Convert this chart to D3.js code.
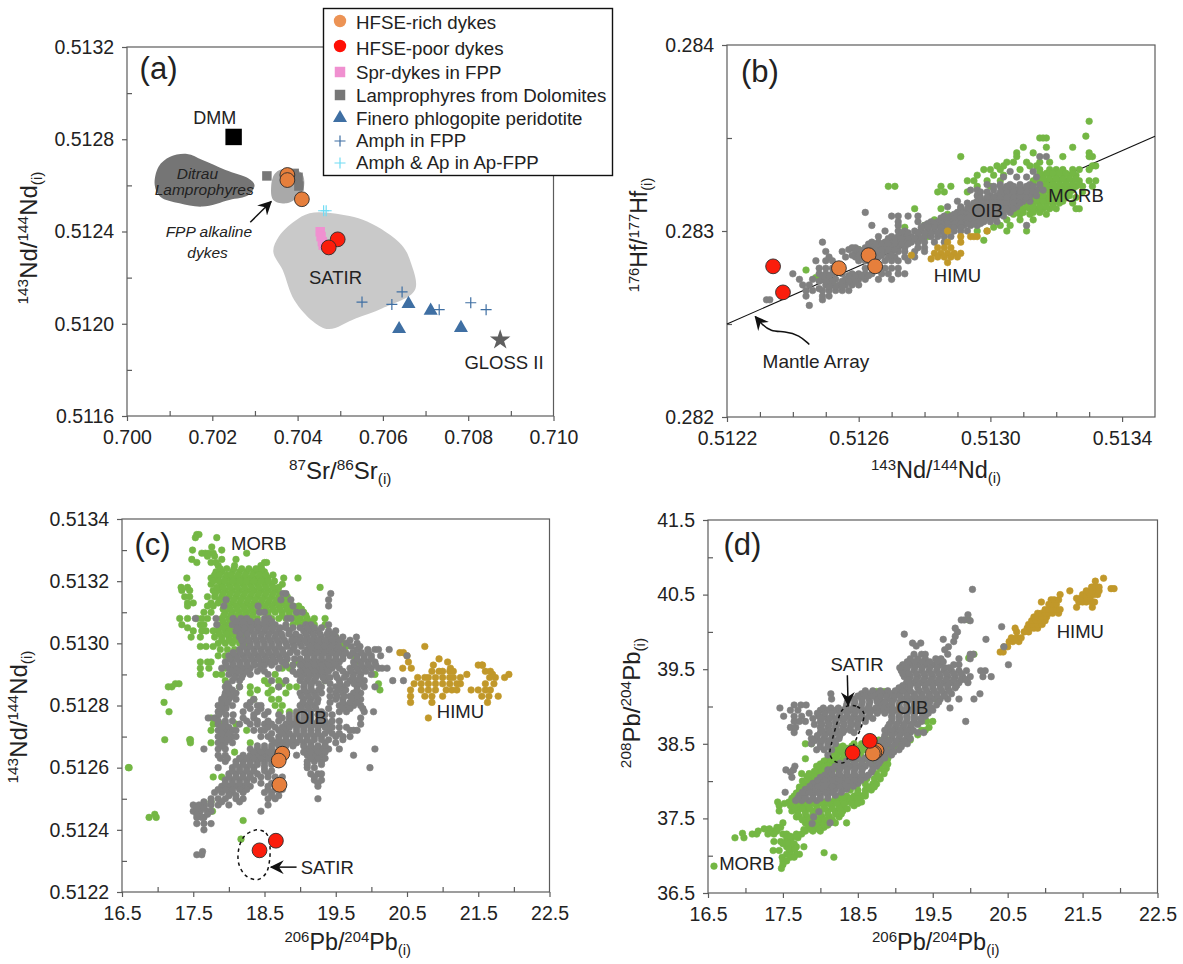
<!DOCTYPE html>
<html>
<head>
<meta charset="utf-8">
<script src="https://cdn.jsdelivr.net/npm/d3@7"></script>
<style>
body { margin: 0; background: #fff; }
text { font-family: "Liberation Sans", Arial, sans-serif; fill: #222; }
</style>
</head>
<body>
<div id="chart"></div>
<script>
// ---- panel (a)
var richA = [[.70376,.512645],[.70376,.512623],[.7041,.51254]];
var poorA = [[.70494,.512366],[.70473,.512331]];
var sprA = [[.70453,.512399],[.70455,.512378],[.70458,.512356],[.7046,.512341]];
var lampA = [[.70328,.512641],[.70401,.512635],[.70403,.512597],[.70392,.512652]];
var fineroA = [[.70638,.511977],[.7066,.512086],[.70712,.512057],[.70783,.511982]];
var amphA = [[.70551,.512094],[.70621,.512084],[.70645,.512138],[.70732,.512061],[.70806,.512091],[.70842,.512061]];
var amphApA = [[.70461,.51249],[.70467,.51249]];
var dmmA = [[.7025,.51281]];
var glossA = [[.70875,.51193]];
var ditrauOutline = [[.70065,.512602],[.70074,.512681],[.70101,.512724],[.70141,.512736],[.70177,.51271],[.70231,.512667],[.70285,.51263],[.70299,.512602],[.70285,.512558],[.7024,.512537],[.70177,.512508],[.70123,.512522],[.70078,.512551]];
var fppOutline = [[.70338,.512594],[.70347,.512652],[.70374,.512674],[.7041,.512652],[.70415,.512594],[.70401,.512551],[.70374,.512522],[.70343,.512537]];
var satirOutline = [[.70343,.512313],[.70356,.512378],[.70392,.512443],[.70428,.512479],[.70482,.512479],[.70563,.512443],[.70644,.512341],[.70666,.512262],[.70675,.512146],[.70599,.512067],[.70536,.512023],[.70473,.511977],[.70437,.512009],[.70392,.512103],[.70365,.512233]];

// ---- panel (b), rows are [hf, nd, nd, ...]
var richB = [[.51254,.2828],[.51263,.28287],[.51265,.28281]];
var poorB = [[.51234,.28281],[.51237,.28267]];
var mantleArray = [[.5122,.2825],[.5135,.28351]];
var mantleArrow = [[.51245,.28239],[.51242,.28244],[.512376,.28246],[.512332,.28246],[.512305,.2825],[.512286,.28254]];
var greenB = [
 [.28359,.5133],[.28351,.51329],[.2835,.51315,.51317,.51316],[.28345,.5131,.51317,.51325],[.28342,.51308,.51313,.5133],
 [.2834,.51291,.51308,.51322,.5133,.51331],[.28337,.51305,.51307,.51311,.51315,.51318],[.28335,.51302,.51304,.51312,.51314,.51331,.51332],
 [.28333,.51298,.513,.51303,.51309,.51315,.51318,.5132,.51322,.51325,.51327,.5133],[.2833,.51296,.51301,.51304,.51316,.51318,.5132,.51322,.51324,.51326],
 [.28327,.51293,.51295,.51299,.51303,.51313,.51315,.51317,.51319,.51321,.51323,.51325,.51327,.5133,.51332],
 [.28324,.51269,.51271,.51285,.51288,.51296,.513,.51316,.51318,.5132,.51322,.51324,.51326,.51328,.51331],
 [.28321,.51284,.51286,.51293,.51314,.51316,.51318,.5132,.51322,.51324,.51328],
 [.28318,.51311,.51313,.51315,.51317,.51319,.51321,.51323,.51326],[.28315,.51309,.51311,.51313,.51315,.51317,.51319,.51321,.51325],
 [.28312,.51277,.51285,.51308,.5131,.51312,.51314,.51316,.51318,.5132,.51326,.51327],[.28309,.51287,.51307,.51309,.51312,.51317],
 [.28306,.51283,.5129,.51305,.51309,.51313],[.28303,.5128,.51303,.51306],[.28302,.51274,.51301],[.283,.51296,.51299,.51311,.51305],[.28295,.51298],
 [.28297,.51281],[.2829,.5126],[.28279,.51244],[.28275,.51247,.51249],[.28272,.51252]
];
var greenCoreB = [
 [.28331,.51315,.51317,.51319,.51321,.51323,.51325],[.28328,.51314,.51316,.51318,.5132,.51322,.51324,.51326],[.28325,.51313,.51315,.51317,.51319,.51321,.51323,.51325,.51327],
 [.28322,.51313,.51315,.51317,.51319,.51321,.51323,.51325],[.28319,.51312,.51314,.51316,.51318,.5132,.51322,.51324],[.28316,.5131,.51312,.51314,.51316,.51318,.5132,.51322],
 [.28313,.51309,.51311,.51313,.51315,.51317,.51319],[.2831,.51308,.5131,.51313,.51315]
];
var grayB = [
 [.2834,.51315,.51317],[.28332,.51306,.51313],[.28329,.51304,.51308,.51311,.51314],[.28325,.51299,.51303,.51306,.51309,.51312,.51315],
 [.28322,.51294,.51296,.51301,.51304,.51306,.51308,.5131,.51312,.51314,.51316],[.28319,.51296,.513,.51302,.51304,.51306,.51308,.5131,.51312,.51314],
 [.28316,.5129,.51296,.51298,.513,.51302,.51304,.51306,.51308,.5131,.51312],[.28313,.51287,.51291,.51294,.51296,.51298,.513,.51302,.51304,.51306,.51308],
 [.2831,.51262,.5129,.51292,.51294,.51296,.51298,.513,.51302,.51304,.51306],[.28308,.5127,.51272,.51275,.51278,.51286,.51288,.5129,.51292,.51294,.51296,.51298,.513,.51302,.51304],
 [.28305,.51272,.51278,.51282,.51284,.51286,.51288,.5129,.51292,.51294,.51296,.51298,.513,.51302],[.28303,.51264,.51272,.5128,.51282,.51284,.51286,.51288,.5129,.51292,.51294,.51296,.51311],
 [.283,.51268,.51272,.51274,.51277,.51279,.51281,.51283,.51285,.51287,.51289,.51291,.51293],[.28297,.51266,.5127,.51272,.51274,.51276,.51278,.5128,.51282,.51284,.51286,.51288],
 [.28294,.51249,.51264,.51266,.51268,.5127,.51272,.51274,.51276,.51278,.5128,.51283,.51286],[.28291,.51259,.51258,.51262,.51264,.51266,.51268,.5127,.51272,.51274,.51278,.5128],
 [.28289,.5125,.51255,.51259,.51261,.51263,.51266,.51268,.5127,.51272,.51274,.51277,.5128],[.28286,.51251,.51256,.51259,.51261,.51263,.51266,.51269,.51271,.51274,.51277],
 [.28284,.51247,.5125,.51252,.5126,.51262,.51263,.51268,.5127,.51272,.51275],[.2828,.51248,.5125,.51252,.51262,.51264,.51268,.5127,.51272],
 [.28277,.5124,.51248,.5125,.51252,.51255,.51258,.5126,.51262,.51264,.51267,.51269,.51272,.51274],[.28274,.51242,.51246,.51249,.51251,.51253,.51256,.51258,.5126,.51262,.51266,.5127],
 [.28271,.51243,.51245,.5125,.51252,.51254,.51256,.51258,.5126],[.28268,.51244,.51246,.51249,.51251,.51253,.51255,.51257],
 [.28265,.51244,.51249,.51251],[.28263,.51232,.51233,.51249],[.2826,.51245]
];
var grayCoreB = [
 [.28324,.51301,.51303,.51305,.51307,.51309,.51311,.51313],[.28321,.51297,.51299,.51303,.51305,.51307,.51309,.51311,.51313],[.28318,.51297,.51299,.51301,.51303,.51305,.51307,.51309,.51311],
 [.28315,.51293,.51295,.51297,.51299,.51301,.51303,.51305,.51307,.51309],[.28312,.51291,.51293,.51295,.51297,.51299,.51301,.51303,.51305,.51307],[.28309,.51289,.51291,.51293,.51295,.51297,.51299,.51301,.51303],
 [.28307,.51285,.51287,.51289,.51291,.51293,.51295,.51297,.51299,.51301],[.28304,.51281,.51283,.51285,.51287,.51289,.51291,.51293,.51295,.51297],[.28302,.51279,.51281,.51283,.51285,.51287,.51289,.51291],
 [.28299,.51273,.51275,.51278,.5128,.51282,.51284,.51286],[.28296,.51269,.51271,.51273,.51275,.51277,.51279],[.28293,.51263,.51265,.51267,.51269,.51271,.51273,.51275],[.2829,.51257,.5126,.51262,.51265,.51267,.51269,.51271],
 [.28287,.51258,.5126,.51262,.51265,.51267,.5127],[.28276,.51249,.51251,.51257,.51259,.51261,.51263],[.28273,.51248,.5125,.51252,.51255,.51257,.51259],[.2827,.51251,.51253,.51255],[.28269,.51248]
];
var goldB = [
 [.283,.51287,.51299],[.28297,.51291,.51294,.51295,.51296],[.28294,.51291,.51287],[.28291,.51284,.51286,.51288],
 [.28288,.51283,.51285,.51287,.51289,.51291],[.28287,.51276],[.28286,.51284,.51286,.51288,.5129],[.28285,.51282],[.28283,.51287]
];

// ---- panel (c), rows are [nd, pb, pb, ...]
var richC = [[18.75,.512645],[18.7,.512623],[18.71,.512545]];
var poorC = [[18.43,.512334],[18.66,.512365]];
var satirC = [[18.39,.5124],[18.52,.51239],[18.57,.51236],[18.57,.5123],[18.52,.51226],[18.41,.51224],[18.25,.51225],[18.14,.51229],[18.14,.51234],[18.22,.51238]];
var greenC = [
 [.51335,17.55,17.58],[.51334,17.53,17.83],[.51331,17.76],[.5133,17.49,17.9],[.51329,17.62,17.67,17.72,17.78,18.25],[.51328,17.7,17.8],
 [.51327,17.48,17.9,18.1],[.51326,17.55,17.75,17.82,18.5,18.53],[.51325,17.85,18.08,18.45],
 [.51323,17.82,17.9,18.05,18.15,18.25,18.35,18.42,18.5],[.51321,17.41,17.75,17.85,17.95,18,18.1,18.2,18.3,18.4,18.5,18.55,18.97,18.77],
 [.51319,17.75,17.9,18,18.1,18.2,18.3,18.4,18.5,18.6,18.75],[.51318,17.33,17.42,19.28],[.51317,17.34,17.45,17.78,17.85,17.95,18.05,18.15,18.25,18.35,18.45,18.55,18.65],
 [.51315,17.38,17.45,17.7,17.8,17.9,18,18.1,18.2,18.3,18.4,18.5,18.6,18.7,18.82],[.51313,17.42,17.5,17.75,17.85,17.95,18.05,18.15,18.25,18.35,18.45,18.55,18.65,18.75,18.85],
 [.51312,17.42,17.7,17.78,18,18.1,18.2,18.3,18.4,18.5,18.6,18.7,18.8,18.9,18.98],[.5131,17.65,17.75,17.95,18.05,18.15,18.25,18.35,18.45,18.55,18.65,18.75,18.85,18.95,19.05],
 [.51308,17.31,17.42,17.55,17.62,17.7,17.9,18,18.1,18.2,18.3,18.4,18.6,18.7,18.8,18.9,19,19.1,19.2,19.35],[.51306,17.34,17.6,17.65,17.85,17.95,18.05,18.15,18.25,18.35,18.9,19,19.1,19.2,19.35],
 [.51305,17.42],[.51304,17.5,17.62,17.68,17.78,17.85,17.95,18,18.1,18.2,18.3],[.51302,17.47,17.6,17.8,17.9,18,18.1,18.2,19.5],
 [.513,17.85,17.95,18.05,18.15,18.25,19.6],[.51299,17.6,17.68,17.78,19.65],[.51296,17.85,17.95,18.05,19.75],[.51294,17.6,17.7,17.75,18.6,18.8,18.95,19.78],
 [.51292,17.6,17.72,17.95,18.75,18.85],[.51293,18.9],[.5129,17.6,17.82,17.9,18.65,20.05],[.51288,17.95,18.5,18.7,19.35],[.51287,17.25,17.3,18.55,18.75,20.1],
 [.51286,17.15,17.2,18.15,18.3,18.7,18.85,18.95],[.51285,18.4,18.6,20.12],[.51284,18.3,18.55,18.8],[.51282,18.35,18.6,18.7],[.51281,17.09],[.5128,18.65,18.75],[.51278,17.16,18.72,18.85],
 [.51276,17.75],[.51274,17.78,17.9,18.1],[.51272,17.75,18.25],[.51269,17.1,17.45,17.46],[.51268,17.46,17.75,18.3],[.51265,18.08],[.5126,16.59,16.6],[.51257,17.78,17.9],
 [.51249,17.75],[.51246,17.77],[.51245,16.96],[.51244,16.88,16.98],[.51243,18.2],[.51237,18.17]
];
var greenCoreC = [
 [.51324,17.88,17.97,18.07,18.18,18.28,18.38,18.46],[.51322,17.8,17.87,17.97,18.03,18.13,18.23,18.33,18.43,18.52,18.62],[.5132,17.78,17.86,17.94,18.05,18.15,18.25,18.35,18.45,18.55,18.64],
 [.51318,17.83,17.92,18.02,18.12,18.22,18.32,18.42,18.52,18.62,18.7],[.51316,17.81,17.92,18.02,18.12,18.22,18.32,18.42,18.52,18.62,18.72],[.51314,17.87,17.97,18.07,18.17,18.27,18.37,18.47,18.57,18.67,18.78],
 [.51311,17.92,18.02,18.12,18.22,18.32,18.42,18.52,18.62,18.72,18.82,18.92,19.02],[.51309,17.93,18.03,18.13,18.23,18.33,18.55,18.75,18.85,18.95,19.08],[.51307,17.92,18.02,18.12,18.22,18.32,18.97,19.07,19.17],
 [.51305,17.92,18.02,18.12,18.22],[.51303,17.87,17.97,18.07,18.15],[.51301,17.9,18,18.08],[.51298,17.88,17.98,18.08]
];
var goldC = [
 [.51299,20.75],[.51297,20.4,20.45],[.51296,20.5],[.51295,20.95],[.51294,20.52,21.07],[.51293,20.87,21.5,21.56,21.55],[.51292,20.44,20.56,21.11],
 [.51291,20.85,20.95,21,21.1,21.15,21.6,21.67],[.5129,21.34,21.7,21.93],[.51289,20.65,20.75,20.8,20.9,21,21.1,21.15,21.25,21.66,21.74,21.87],
 [.51287,20.6,20.7,20.8,20.9,21,21.1,21.2,21.25,21.6,21.72],[.51285,20.55,20.7,20.8,20.9,21.05,21.13,21.2,21.4,21.5,21.6,21.67],
 [.51283,20.55,20.75,20.85,21,21.55,21.65,21.78],[.51281,20.55,20.85,21.63],[.51276,20.8]
];
var grayC = [
 [.51316,18.76,18.8,19.43],[.51314,17.96,18.73,18.87,19.4],[.51312,17.93,18.41,18.9,19.4],[.5131,18.43,18.5,18.95,19.03],
 [.51308,17.53,17.82,18.06,18.17,18.25,18.5,18.56,18.82,18.87],[.51306,17.83,18.05,18.15,18.25,18.35,18.45,18.55,18.65,18.8,19.08,19.15,19.4],
 [.51304,18.1,18.2,18.3,18.4,18.5,18.6,18.7,18.85,19.05,19.15,19.25,19.4,19.5],[.51302,18.15,18.25,18.35,18.45,18.55,18.65,18.75,18.9,19,19.1,19.2,19.3,19.4,19.5,19.6,19.79],
 [.513,18.2,18.3,18.4,18.5,18.6,18.7,18.8,18.9,19,19.1,19.2,19.3,19.4,19.5,19.65,19.8],[.51298,18.15,18.25,18.35,18.45,18.55,18.65,18.75,18.9,19.1,19.2,19.3,19.4,19.5,19.6,19.8,19.95,20.05,20.1,20.25],
 [.51296,18,18.1,18.2,18.3,18.4,18.5,18.6,18.7,18.8,19.1,19.2,19.3,19.4,19.5,19.6,19.7,19.8,19.9,20,20.13,20.5],
 [.51294,17.95,18.05,18.15,18.25,18.35,18.45,18.55,18.65,18.75,19.05,19.15,19.25,19.35,19.45,19.55,19.75,19.85,19.95,20.05],
 [.51292,17.9,18,18.1,18.2,18.3,18.45,18.7,19.05,19.15,19.25,19.35,19.45,19.55,19.7,19.8,19.9,20,20.1,20.15,20.22],
 [.5129,18,18.1,18.2,18.3,18.55,18.95,19.05,19.15,19.25,19.35,19.5,19.65,19.75,19.85,20],[.51288,18.05,18.15,18.6,18.8,19,19.1,19.2,19.35,19.55,19.7,19.8,19.9,20.3,20.45],
 [.51286,17.95,18,18.15,18.7,19.05,19.15,19.3,19.5,19.6,19.8,19.9,20.05],[.51284,17.95,18,18.1,19,19.1,19.2,19.3,19.5,19.6,19.75,19.85],
 [.51282,17.9,18,18.1,18.35,19.05,19.15,19.25,19.5,19.6,19.75,19.85],[.5128,17.85,17.95,18.05,18.25,18.4,18.45,19,19.1,19.2,19.55,19.65,19.75,19.85],
 [.51278,17.85,17.9,18.2,18.4,18.55,18.95,19.05,19.15,19.3,19.55,19.65,19.9,20.03],[.51276,17.71,17.8,18.2,18.35,18.75,18.85,18.95,19.05,19.15,19.3,19.85],
 [.51274,17.85,17.95,18.15,18.3,18.4,18.5,18.6,18.8,18.9,19,19.1,19.2,19.3,19.4,19.85],[.51272,17.85,17.95,18.05,18.1,18.35,18.45,18.5,18.7,18.8,18.95,19.05,19.15,19.25,19.4,19.7,19.75,19.8],
 [.5127,17.85,17.95,18.05,18.1,18.45,18.55,18.7,18.8,18.9,19,19.1,19.2,19.3,19.5,19.6,19.7],[.51268,17.85,17.95,18.05,18.65,18.75,18.85,18.95,19.05,19.15,19.35,19.5],
 [.51266,17.65,17.85,17.95,18.3,18.4,18.5,18.6,18.75,19.1,19.2,19.3,19.4,19.55,20.05],[.51264,17.85,17.95,18.2,18.3,18.4,18.5,18.6,18.95,19.1,19.2,19.3,19.75],
 [.51262,17.95,18.1,18.2,18.3,18.4,18.5,18.6,19.1,19.2,19.3],[.5126,17.85,18.05,18.15,18.25,18.35,18.5,19.1,19.2,19.98],
 [.51258,18,18.1,18.2,18.3,18.4,18.55,19.15,19.25,19.3],[.51256,17.95,18.05,18.15,18.25,18.35,19.2,19.3],[.51254,17.9,18,18.1,18.2,18.3,18.55,18.65,18.75,19.25],
 [.51252,17.8,17.9,18,18.05,18.2,18.5,18.6],[.5125,17.75,17.85,17.95,18.1,18.2,18.55,18.65,19.25],[.51248,17.5,17.58,17.66,17.75,17.85,18,18.55],
 [.51246,17.5,17.6,17.7,17.75,18.45],[.51244,17.55,17.62,17.65],[.51242,17.55,17.65,17.75],[.5124,17.65],[.51233,17.63],[.51232,17.55,17.62]
];
var grayCoreC = [
 [.51307,18.1,18.2,18.3,18.4,18.5,18.6],[.51305,18.12,18.22,18.32,18.42,18.52,18.62,18.72,18.8,18.9,19,19.1,19.2,19.3],[.51303,18.16,18.26,18.36,18.46,18.56,18.66,18.74,18.84,18.94,19.08,19.18,19.28,19.38,19.46],
 [.51301,18.18,18.28,18.38,18.48,18.58,18.68,18.78,18.88,18.96,19.06,19.16,19.26,19.36,19.46,19.56,19.7],[.51299,18.2,18.3,18.4,18.5,18.6,18.7,18.82,18.92,19.02,19.14,19.24,19.34,19.44,19.54,19.72,19.84],
 [.51297,18.06,18.16,18.26,18.36,18.46,18.56,18.66,18.76,18.86,18.96,19.06,19.14,19.24,19.34,19.44,19.54,19.64,19.74,19.86,19.96],[.51295,18.02,18.12,18.22,18.32,18.42,18.52,18.62,18.72,18.82,18.92,19,19.1,19.2,19.3,19.4,19.5,19.6,19.8,19.9,20],
 [.51293,17.96,18.06,18.16,18.26,18.36,18.44,18.5,18.6,18.8,18.9,19,19.1,19.2,19.3,19.4,19.5,19.76,19.86,19.96,20.06],[.51291,18.05,18.15,18.25,18.4,18.5,18.9,19,19.1,19.2,19.3,19.4,19.6,19.72,19.82,19.92],
 [.51289,18.08,18.18,19.02,19.12,19.22,19.32,19.42,19.52,19.62,19.74,19.84],[.51287,17.98,19.06,19.16,19.26,19.42,19.56,19.66,19.76,19.86],[.51285,17.97,18.05,19.06,19.16,19.26,19.42,19.54,19.64,19.8],
 [.51283,17.94,18.04,19.02,19.12,19.22,19.42,19.52,19.62,19.7,19.8],[.51281,17.9,17.98,18.3,19.04,19.14,19.24,19.42,19.6,19.7,19.8],[.51279,17.88,17.96,18.3,18.45,19.02,19.12,19.22,19.4,19.6,19.7,19.88],
 [.51277,17.86,17.96,18.06,18.35,18.5,18.7,18.85,18.95,19.05,19.15,19.25,19.35,19.45],[.51275,17.85,17.95,18.05,18.25,18.4,18.55,18.7,18.85,18.95,19.05,19.15,19.25,19.35,19.45,19.55],
 [.51273,17.9,18,18.55,18.65,18.75,18.85,18.95,19.05,19.15,19.25,19.35,19.45,19.55,19.65],[.51271,17.9,18,18.6,18.75,18.85,18.95,19.05,19.15,19.25,19.35,19.45,19.55],[.51269,17.9,18,18.6,18.7,18.8,18.9,19,19.1,19.2,19.3,19.4,19.6],
 [.51267,17.9,18.4,18.5,18.6,18.7,18.8,18.9,19.05,19.15,19.25,19.35],[.51265,18.35,18.45,18.55,18.65,18.8,19.05,19.15,19.25,19.35],[.51263,17.88,17.98,18.15,18.25,18.35,18.45,18.55,18.65,18.75,19.15,19.25,19.35],[.51261,18.1,18.2,18.3,18.4,18.5,18.6,19.1,19.3],
 [.51259,18.05,18.15,18.25,18.35,18.5,18.6],[.51257,18,18.1,18.2,18.3,18.45,18.55,18.65,18.75,19.2],[.51255,17.95,18.05,18.15,18.25,18.45,18.6,18.7,19.25],[.51253,17.85,17.95,18.05,18.15,18.25,18.55,18.65,18.75],
 [.51251,18,18.1,18.6,18.7],[.51249,17.65,17.75,17.9,18.15],[.51247,17.55,17.65],[.51245,17.55,17.7]
];

// ---- panel (d), rows are [pb208, pb206, pb206, ...]
var richD = [[18.75,38.41],[18.72,38.38],[18.7,38.37]];
var poorD = [[18.43,38.38],[18.66,38.54]];
var satirD = [[18.37,39.01],[18.49,39],[18.58,38.91],[18.56,38.77],[18.49,38.59],[18.39,38.37],[18.32,38.25],[18.2,38.26],[18.13,38.35],[18.15,38.51],[18.22,38.77],[18.29,38.95]];
var greenD = [
 [40.16,19.98],[39.7,20.05],[39.65,19.98],[39.55,19.1],[39.2,18.75,18.85],[39.1,19.55],
 [38.8,19.42,19.5],[38.72,19.45],[38.68,19.35,19.4],[38.62,19.3],[38.55,19.2,18.7,18.78,18.85,18.9],[38.5,17.8,17.88,18.45,18.55,18.65,18.75,18.85,19.05],
 [38.44,18.2,18.35,18.5,18.6,18.7,18.8,18.9,19],[38.38,18.15,18.25,18.35,18.5,18.65,18.85,18.95],[38.3,17.8,18.1,18.2,18.3,18.4,18.5,18.6,18.7,18.8,18.9],
 [38.23,18,18.1,18.2,18.3,18.7,18.82,18.9],[38.17,17.98,18,18.1,18.2,18.8,18.88],[38.1,17.75,17.85,17.95,18.05,18.75,18.85],[38.03,17.88,17.95,18.62,18.72,18.8],
 [37.96,17.78,17.85,18.5,18.6,18.7,18.75],[37.88,17.72,17.78,18.4,18.5,18.6,18.68],[37.8,17.65,18.25,18.35,18.45,18.55,18.6],[37.72,17.43,17.58,17.95,18.05,18.15,18.25,18.35,18.45,18.55],
 [37.67,17.45,17.6,17.7,17.78,17.85,17.95,18.05,18.15,18.25,18.3,18.45],[37.6,17.45,17.62,17.7,17.8,17.9,18,18.1,18.2,18.3],[37.52,17.68,17.72,17.82,17.92,18.02,18.12,18.25],
 [37.44,17.5,17.8,17.9,18,18.1,18.2,18.35],[37.38,17.42,17.47,17.85,17.95,18.05],[37.36,17.25,17.32],[37.33,17.17,17.38,17.42,17.8,17.9,18],[37.29,17.09,17.15,17.3,17.38,17.5,17.55,17.68,17.75],
 [37.24,16.86,16.98,17.55,17.62,17.7],[37.3,16.96],[37.19,17.38,17.47,17.55,17.6],[37.12,17.55,17.62,17.68,17.78],[37.07,17.37,17.45,17.6],[37.04,18.05],[37.02,17.55,17.6,17.68,17.72],[36.98,17.49,17.6,17.65,18.18],
 [36.93,17.5,17.55],[36.88,17.5],[36.86,16.58],[36.83,17.48]
];
var greenCoreD = [
 [38.47,18.22,18.3,18.42,18.56,18.66,18.76,18.88],[38.41,18.18,18.28,18.38,18.56,18.9],[38.34,18.12,18.22,18.32,18.44,18.54,18.64,18.9],[38.27,18.05,18.15,18.25,18.85],[38.2,17.95,18.05,18.15,18.25],
 [38.13,17.92,18.02,18.12,18.85],[38.06,17.82,17.92,18.02,18.78],[38,17.76,17.84,17.94],[37.92,17.72,17.82,18.65,18.72],[37.84,17.68,17.76,18.5,18.6],[37.77,17.62,17.72,18.2,18.3,18.4,18.5],
 [37.7,17.52,17.62,17.72,17.82,17.92,18.02,18.12,18.22,18.32,18.42,18.5],[37.63,17.66,17.76,17.86,17.96,18.06,18.16,18.26,18.36],[37.56,17.7,17.8,17.9,18,18.1,18.2,18.28],[37.48,17.76,17.86,17.96,18.06,18.16],
 [37.41,17.84,17.94,18.04,18.1],[37.35,17.78,17.88,17.98],[37.26,17.6,17.68],[37.16,17.5,17.58,17.65],[37.09,17.58,17.66]
];
var goldD = [
 [39.73,20.4,20.44],[39.8,20.45,20.5],[39.87,20.52,20.57,20.65],[39.92,20.55,20.62,20.68],[40,20.62,20.72,20.78],[40.05,20.6,20.76,20.8,20.85,20.9],
 [40.1,20.78,20.84,20.9,20.96],[40.15,20.82,20.88,20.94,21],[40.2,20.85,20.9,20.96,21.02],[40.25,20.9,20.95,21,21.05,21.1,21.18],[40.3,21,21.05,21.1,21.15,21.2],
 [40.33,21.42,21.63],[40.37,21.05,21.1,21.15],[40.4,20.95,21.45,21.5,21.55,21.62,21.66],[40.43,21.08,21.12,21.18],[40.45,21.42,21.48,21.55,21.6],[40.5,21.2,21.5,21.55,21.6,21.65,21.7],
 [40.55,21.33,21.55,21.62,21.67,21.72],[40.58,21.88,21.92],[40.6,21.62,21.67,21.72],[40.68,21.67],[40.72,21.78]
];
var grayD = [
 [40.57,20.03],[40.23,19.97],[40.16,19.88,19.92],[40.15,20],[40.07,20.42],[40.05,19.8],[40,19.83],[39.97,19.12],[39.94,19.8],[39.9,19.64,20.21],[39.87,19.78],
 [39.85,19.23,19.34],[39.81,19.28],[39.8,19.71,20.45],[39.76,19.66],[39.7,19.25,19.35,19.4,19.7,20,20.04],[39.64,19.2,19.3,19.4,19.54,19.61,19.85,20],
 [39.56,19.1,19.2,19.3,19.4,19.5,19.6,19.78,19.85,20.51],[39.48,19.08,19.15,19.25,19.35,19.45,19.55,19.65,19.75,19.85,19.95,20.14,20.2],
 [39.4,19.12,19.2,19.3,19.4,19.5,19.6,19.7,19.8,19.9,20,20.17,20.28],[39.32,19.15,19.25,19.35,19.45,19.55,19.65,19.75,19.85,19.97],
 [39.25,19.05,19.15,19.3,19.4,19.5,19.6,19.7,19.8],[39.17,18.14,18.55,18.65,18.75,18.85,18.95,19.05,19.15,19.25,19.35,19.45,19.55,19.65,19.75,20.13],
 [39.1,18.15,18.45,18.55,18.65,18.75,18.8,18.9,18.98,19.1,19.2,19.3,19.4,19.5,19.6,19.7,19.85,20.05],[39.02,17.65,17.74,17.81,18.35,18.45,18.55,18.65,18.8,18.88,18.95,19.05,19.15,19.25,19.35,19.45,19.55],
 [38.98,17.46,19.73],[38.95,17.6,17.7,18,18.1,18.2,18.3,18.4,18.5,18.6,18.7,18.8,18.9,19,19.1,19.2,19.3,19.4,19.5],[38.87,17.51,17.65,17.75,17.98,18.05,18.15,18.25,18.35,18.45,18.55,18.65,18.95,19.05,19.15,19.25,19.4],
 [38.8,17.65,17.72,17.8,18,18.1,18.2,18.3,18.4,18.5,18.6,18.95,19.05,19.15,19.25,19.35,19.94],[38.72,17.6,17.67,18,18.1,18.2,18.3,18.4,18.5,18.9,19,19.1,19.2],
 [38.65,17.65,17.85,18,18.1,18.2,18.3,18.45,18.9,19,19.1,19.2,19.3,19.38],[38.57,17.88,17.95,18.05,18.15,18.25,18.85,18.95,19.05,19.15,19.2],
 [38.5,17.88,18,18.1,18.2,18.8,18.9,19,19.1,19.16],[38.42,17.95,18.05,18.15,18.75,18.85,18.95,19.05],[38.35,18.1,18.65,18.75,18.85,18.95],
 [38.27,18.35,18.45,18.55,18.65,18.75,18.8],[38.2,17.66,18.2,18.3,18.4,18.5,18.6,18.7,18.75],[38.15,17.54,17.64,18.1],[38.12,17.6,18.15,18.25,18.35,18.45,18.55,18.68],
 [38.05,17.62,18,18.1,18.2,18.3,18.4,18.5,18.6],[37.97,17.9,18,18.1,18.2,18.3,18.4,18.5],[37.89,17.8,17.9,18,18.1,18.2,18.3,18.35],[37.85,17.53],
 [37.81,17.72,17.8,17.9,18,18.1,18.2],[37.74,17.67,17.75,17.85,17.95],[37.59,17.98],[37.52,17.91],[37.44,18.13],[37.43,17.89]
];
var grayCoreD = [
 [39.6,19.16,19.26,19.36,19.46,19.56,19.64],[39.52,19.06,19.16,19.26,19.36,19.46,19.56,19.66,19.72],[39.44,19.1,19.18,19.28,19.38,19.48,19.58,19.68,19.78,19.88],
 [39.36,19.18,19.28,19.38,19.48,19.58,19.68,19.78,19.88,19.94],[39.28,19.1,19.2,19.3,19.4,19.5,19.6,19.7,19.82],[39.21,18.6,18.7,18.8,18.9,19,19.1,19.2,19.32,19.42,19.52,19.62,19.72],
 [39.14,18.5,18.6,18.7,18.8,18.88,18.98,19.06,19.16,19.26,19.36,19.46,19.56,19.66],[39.06,18.36,18.46,18.56,18.66,18.76,18.86,18.96,19.06,19.16,19.26,19.36,19.46,19.58],
 [38.98,18.04,18.14,18.24,18.34,18.44,18.54,18.64,18.74,18.84,18.96,19.06,19.16,19.26,19.36,19.48],[38.91,17.85,17.96,18.06,18.16,18.26,18.36,18.46,18.56,18.66,18.76,18.86,18.96,19.06,19.16,19.26,19.36,19.44],
 [38.84,17.9,18.02,18.12,18.22,18.32,18.42,18.52,18.6,18.7,18.96,19.06,19.16,19.26,19.34],[38.76,17.92,18.02,18.12,18.22,18.32,18.42,18.5,18.92,19.02,19.12,19.22,19.3],
 [38.68,18.02,18.12,18.22,18.32,18.4,18.86,18.96,19.06,19.16,19.24],[38.61,17.96,18.06,18.16,18.26,18.86,18.96,19.06,19.16],[38.54,17.92,18.02,18.12,18.2,18.82,18.92,19.02,19.12],
 [38.46,18,18.1,18.76,18.86,18.96,19.08],[38.39,18.66,18.78,18.88,18.98],[38.31,18.4,18.5,18.6,18.7,18.78,18.86],[38.24,18.26,18.36,18.46,18.56,18.66,18.78],
 [38.16,18.16,18.26,18.36,18.46,18.56,18.7],[38.08,18.06,18.16,18.26,18.36,18.46,18.56,18.64],[38.01,17.96,18.06,18.16,18.26,18.36,18.46,18.54],[37.93,17.86,17.96,18.06,18.16,18.26,18.36,18.44],
 [37.85,17.76,17.86,17.96,18.06,18.16,18.28],[37.77,17.7,17.8,17.9,18,18.1]
];

// row lists -> [x, y] points, rows keep the y value first
function unrow(rows) {
    var out = [];
    rows.forEach(function(r) {
        r.slice(1).forEach(function(x) { out.push([x, r[0]]); });
    });
    return out;
}

var colors = { gray: '#808080', green: '#74b744', gold: '#c1982a', orange: '#e67f3c', red: '#fb1d0c', pink: '#f090d0', blue: '#3f6fa3', cyan: '#70dcf4', axis: '#5c5c5c' };

var svg = d3.select('#chart').append('svg').attr('width', 1183).attr('height', 964);

svg.append('defs').append('marker')
    .attr('id', 'head').attr('viewBox', '0 0 12 12').attr('refX', 11).attr('refY', 6)
    .attr('markerWidth', 14).attr('markerHeight', 14).attr('markerUnits', 'userSpaceOnUse').attr('orient', 'auto')
    .append('path').attr('d', 'M0,0 L12,6 L0,12 L4,6 Z').attr('fill', '#111');

function panel(c) {
    var g = svg.append('g');
    c.sx = d3.scaleLinear().domain(c.xd).range([c.l, c.r]);
    c.sy = d3.scaleLinear().domain(c.yd).range([c.b, c.t]);
    c.g = g;

    function ax(sel) { sel.selectAll('path,line').attr('stroke', colors.axis).attr('stroke-width', 1.2); sel.select('.domain').remove(); }

    g.append('g').attr('transform', 'translate(0,' + c.b + ')')
        .call(d3.axisBottom(c.sx).tickValues(c.xMinor).tickSize(-5).tickFormat('')).call(ax);
    g.append('g').attr('transform', 'translate(' + c.l + ',0)')
        .call(d3.axisLeft(c.sy).tickValues(c.yMinor).tickSize(-5).tickFormat('')).call(ax);
    var xa = g.append('g').attr('transform', 'translate(0,' + c.b + ')')
        .call(d3.axisBottom(c.sx).tickValues(c.xMajor).tickSize(5).tickFormat(d3.format(c.xf))).call(ax);
    var ya = g.append('g').attr('transform', 'translate(' + c.l + ',0)')
        .call(d3.axisLeft(c.sy).tickValues(c.yMajor).tickSize(5).tickFormat(d3.format(c.yf))).call(ax);
    xa.selectAll('text').attr('font-size', 19.5).attr('dy', '1.05em');
    ya.selectAll('text').attr('font-size', 19.5).attr('dx', '-0.25em');
    xa.attr('font-family', null); ya.attr('font-family', null);

    g.append('rect').attr('x', c.l).attr('y', c.t).attr('width', c.r - c.l).attr('height', c.b - c.t)
        .attr('fill', 'none').attr('stroke', colors.axis).attr('stroke-width', 1.2);

    title(g.append('text').attr('x', (c.l + c.r) / 2 + c.xtOff).attr('y', c.xtY), c.xTitle, c.xtSize);
    title(g.append('text').attr('transform', 'translate(' + c.ytX + ',' + c.ytY + ') rotate(-90)'), c.yTitle, c.ytSize);
    return c;
}

function title(t, parts, size) {
    t.attr('text-anchor', 'middle').attr('font-size', size);
    var shift = 0;
    parts.forEach(function(p) {
        var want = p[1] == 'sup' ? -0.36 * size : p[1] == 'sub' ? 0.22 * size : 0;
        t.append('tspan').text(p[0]).attr('dy', want - shift)
            .attr('font-size', p[1] ? size * 0.64 : size);
        shift = want;
    });
}

function dots(c, rows, color) {
    c.g.append('g').selectAll('circle').data(unrow(rows)).enter().append('circle')
        .attr('cx', function(d) { return c.sx(d[0]); })
        .attr('cy', function(d) { return c.sy(d[1]); })
        .attr('r', 3.3)
        .attr('fill', color).attr('stroke', color).attr('stroke-width', 0.6);
}

function big(c, pts, color) {
    c.g.append('g').selectAll('circle').data(pts).enter().append('circle')
        .attr('cx', function(d) { return c.sx(d[0]); })
        .attr('cy', function(d) { return c.sy(d[1]); })
        .attr('r', 7.4)
        .attr('fill', color).attr('stroke', '#2b2b2b').attr('stroke-width', 0.9);
}

function sym(c, pts, shape, size, color) {
    c.g.append('g').selectAll('path').data(pts).enter().append('path')
        .attr('transform', function(d) { return 'translate(' + c.sx(d[0]) + ',' + c.sy(d[1]) + ')'; })
        .attr('d', d3.symbol().type(shape).size(size))
        .attr('fill', color);
}

function plus(c, pts, color) {
    c.g.append('g').selectAll('path').data(pts).enter().append('path')
        .attr('transform', function(d) { return 'translate(' + c.sx(d[0]) + ',' + c.sy(d[1]) + ')'; })
        .attr('d', 'M-5.5,0H5.5M0,-5.5V5.5')
        .attr('fill', 'none').attr('stroke', color).attr('stroke-width', 1.2);
}

function area(c, pts, color) {
    var line = d3.line().x(function(d) { return c.sx(d[0]); }).y(function(d) { return c.sy(d[1]); }).curve(d3.curveCatmullRomClosed.alpha(0.5));
    c.g.append('path').attr('d', line(pts)).attr('fill', color);
}

function dashed(c, pts) {
    var line = d3.line().x(function(d) { return c.sx(d[0]); }).y(function(d) { return c.sy(d[1]); }).curve(d3.curveCatmullRomClosed.alpha(0.5));
    c.g.append('path').attr('d', line(pts)).attr('fill', 'none').attr('stroke', '#111').attr('stroke-width', 1.5).attr('stroke-dasharray', '3.5,3.5');
}

function label(c, txt, x, y, size, italic) {
    c.g.append('text').attr('x', c.sx(x)).attr('y', c.sy(y)).attr('dy', '0.35em').attr('text-anchor', 'middle')
        .attr('font-size', size).attr('font-style', italic ? 'italic' : null).text(txt);
}

function arrow(c, pts, curved) {
    var line = d3.line().x(function(d) { return c.sx(d[0]); }).y(function(d) { return c.sy(d[1]); });
    if (curved) line.curve(d3.curveBasis);
    c.g.append('path').attr('d', line(pts)).attr('fill', 'none').attr('stroke', '#111').attr('stroke-width', 1.5).attr('marker-end', 'url(#head)');
}

// ---- (a)
var a = panel({
    l: 127, r: 553.5, t: 47, b: 416, xd: [.7, .71], yd: [.5116, .5132],
    xMajor: [.7, .702, .704, .706, .708, .71], xMinor: [.701, .703, .705, .707, .709], xf: '.3f',
    yMajor: [.5116, .512, .5124, .5128, .5132], yMinor: [.5118, .5122, .5126, .513], yf: '.4f',
    xTitle: [['87', 'sup'], ['Sr/'], ['86', 'sup'], ['Sr'], ['(i)', 'sub']], xtOff: 0, xtY: 479, xtSize: 24,
    yTitle: [['143', 'sup'], ['Nd/'], ['144', 'sup'], ['Nd'], ['(i)', 'sub']], ytX: 37, ytY: 238, ytSize: 24
});
area(a, ditrauOutline, '#757575');
area(a, fppOutline, '#a9a9a9');
area(a, satirOutline, '#c9c9c9');
sym(a, sprA, d3.symbolSquare, 90, colors.pink);
sym(a, lampA, d3.symbolSquare, 90, '#777');
sym(a, dmmA, d3.symbolSquare, 270, '#000');
sym(a, fineroA, d3.symbolTriangle, 85, colors.blue);
sym(a, glossA, d3.symbolStar, 130, '#5f5f5f');
plus(a, amphA, colors.blue);
plus(a, amphApA, colors.cyan);
big(a, richA, colors.orange);
big(a, poorA, colors.red);
label(a, '(a)', .70074, .51311, 31);
label(a, 'DMM', .70206, .512895, 18);
label(a, 'Ditrau', .70165, .51265, 15.5, true);
label(a, 'Lamprophyres', .70181, .51258, 15.5, true);
label(a, 'FPP alkaline', .70192, .5124, 15.5, true);
label(a, 'dykes', .70189, .51231, 15.5, true);
label(a, 'SATIR', .70489, .5122, 18.5);
label(a, 'GLOSS II', .70884, .51183, 18.5);
arrow(a, [[.70289, .51244], [.70338, .51253]]);

// legend
var legendNames = ['HFSE-rich dykes', 'HFSE-poor dykes', 'Spr-dykes in FPP', 'Lamprophyres from Dolomites', 'Finero phlogopite peridotite', 'Amph in FPP', 'Amph & Ap in Ap-FPP'];
var legendYs = [22, 48, 72, 95, 118, 140, 162];
var lg = svg.append('g');
lg.append('rect').attr('x', 323.5).attr('y', 8.5).attr('width', 289).attr('height', 167).attr('fill', '#fff').attr('stroke', '#111').attr('stroke-width', 1.4);
lg.selectAll('text').data(legendNames).enter().append('text')
    .attr('x', 356).attr('y', function(d, i) { return legendYs[i]; }).attr('dy', '0.36em').attr('font-size', 18.7).text(function(d) { return d; });
var mk = 340;
lg.append('circle').attr('cx', mk).attr('cy', legendYs[0] - 1).attr('r', 6.2).attr('fill', '#ec9355');
lg.append('circle').attr('cx', mk).attr('cy', legendYs[1] - 2).attr('r', 6.2).attr('fill', '#ff0f05');
lg.append('path').attr('transform', 'translate(' + mk + ',' + legendYs[2] + ')').attr('d', d3.symbol().type(d3.symbolSquare).size(110)).attr('fill', colors.pink);
lg.append('path').attr('transform', 'translate(' + mk + ',' + legendYs[3] + ')').attr('d', d3.symbol().type(d3.symbolSquare).size(110)).attr('fill', '#777');
lg.append('path').attr('transform', 'translate(' + mk + ',' + legendYs[4] + ')').attr('d', d3.symbol().type(d3.symbolTriangle).size(85)).attr('fill', colors.blue);
lg.append('path').attr('transform', 'translate(' + mk + ',' + (legendYs[5] + 1) + ')').attr('d', 'M-5.5,0H5.5M0,-5.5V5.5').attr('stroke', colors.blue).attr('stroke-width', 1.2);
lg.append('path').attr('transform', 'translate(' + mk + ',' + (legendYs[6] + 1) + ')').attr('d', 'M-5.5,0H5.5M0,-5.5V5.5').attr('stroke', colors.cyan).attr('stroke-width', 1.2);

// ---- (b)
var b = panel({
    l: 727, r: 1155, t: 45, b: 417, xd: [.5122, .5135], yd: [.282, .284],
    xMajor: [.5122, .5126, .513, .5134], xMinor: [.5123, .5124, .5125, .5127, .5128, .5129, .5131, .5132, .5133], xf: '.4f',
    yMajor: [.282, .283, .284], yMinor: [.2825, .2835], yf: '.3f',
    xTitle: [['143', 'sup'], ['Nd/'], ['144', 'sup'], ['Nd'], ['(i)', 'sub']], xtOff: -5, xtY: 478, xtSize: 23.5,
    yTitle: [['176', 'sup'], ['Hf/'], ['177', 'sup'], ['Hf'], ['(i)', 'sub']], ytX: 647, ytY: 235, ytSize: 23
});
// the array line sits behind the cloud
b.g.append('path').attr('d', d3.line().x(function(d) { return b.sx(d[0]); }).y(function(d) { return b.sy(d[1]); })(mantleArray))
    .attr('stroke', '#111').attr('stroke-width', 1.1).attr('fill', 'none');
dots(b, greenB, colors.green);
dots(b, greenCoreB, colors.green);
dots(b, grayB, colors.gray);
dots(b, grayCoreB, colors.gray);
dots(b, goldB, colors.gold);
big(b, richB, colors.orange);
big(b, poorB, colors.red);
label(b, '(b)', .5123, .28386, 31);
label(b, 'OIB', .51299, .28311, 18.5);
label(b, 'MORB', .51326, .28319, 18.5);
label(b, 'HIMU', .5129, .28276, 18.5);
label(b, 'Mantle Array', .51247, .2823, 19);
arrow(b, mantleArrow, true);

// ---- (c)
var pbMajor = [16.5, 17.5, 18.5, 19.5, 20.5, 21.5, 22.5], pbMinor = [17, 18, 19, 20, 21, 22];
var c = panel({
    l: 122, r: 549.5, t: 519, b: 892, xd: [16.5, 22.5], yd: [.5122, .5134],
    xMajor: pbMajor, xMinor: pbMinor, xf: '.1f',
    yMajor: [.5122, .5124, .5126, .5128, .513, .5132, .5134], yMinor: [.5123, .5125, .5127, .5129, .5131, .5133], yf: '.4f',
    xTitle: [['206', 'sup'], ['Pb/'], ['204', 'sup'], ['Pb'], ['(i)', 'sub']], xtOff: 12, xtY: 950, xtSize: 23.3,
    yTitle: [['143', 'sup'], ['Nd/'], ['144', 'sup'], ['Nd'], ['(i)', 'sub']], ytX: 27, ytY: 717, ytSize: 24
});
dots(c, greenC, colors.green);
dots(c, greenCoreC, colors.green);
dots(c, goldC, colors.gold);
dots(c, grayC, colors.gray);
dots(c, grayCoreC, colors.gray);
dashed(c, satirC);
big(c, richC, colors.orange);
big(c, poorC, colors.red);
label(c, '(c)', 16.93, .51332, 31);
label(c, 'MORB', 18.42, .51332, 18.5);
label(c, 'OIB', 19.15, .51276, 18.5);
label(c, 'HIMU', 21.25, .51278, 18.5);
label(c, 'SATIR', 19.38, .51228, 18.5);
arrow(c, [[18.95, .51228], [18.59, .51228]]);

// ---- (d)
var d = panel({
    l: 708, r: 1157.5, t: 520, b: 893, xd: [16.5, 22.5], yd: [36.5, 41.5],
    xMajor: pbMajor, xMinor: pbMinor, xf: '.1f',
    yMajor: [36.5, 37.5, 38.5, 39.5, 40.5, 41.5], yMinor: [37, 38, 39, 40, 41], yf: '.1f',
    xTitle: [['206', 'sup'], ['Pb/'], ['204', 'sup'], ['Pb'], ['(i)', 'sub']], xtOff: 3, xtY: 950, xtSize: 23.5,
    yTitle: [['208', 'sup'], ['Pb/'], ['204', 'sup'], ['Pb'], ['(i)', 'sub']], ytX: 640, ytY: 703, ytSize: 24
});
dots(d, greenD, colors.green);
dots(d, greenCoreD, colors.green);
dots(d, goldD, colors.gold);
dots(d, grayD, colors.gray);
dots(d, grayCoreD, colors.gray);
dashed(d, satirD);
big(d, richD, colors.orange);
big(d, poorD, colors.red);
label(d, '(d)', 16.96, 41.17, 31);
label(d, 'SATIR', 18.49, 39.56, 18.5);
label(d, 'OIB', 19.23, 38.98, 18.5);
label(d, 'HIMU', 21.47, 40, 18.5);
label(d, 'MORB', 17.02, 36.9, 18.5);
arrow(d, [[18.36, 39.42], [18.37, 39.02]]);
</script>
</body>
</html>
